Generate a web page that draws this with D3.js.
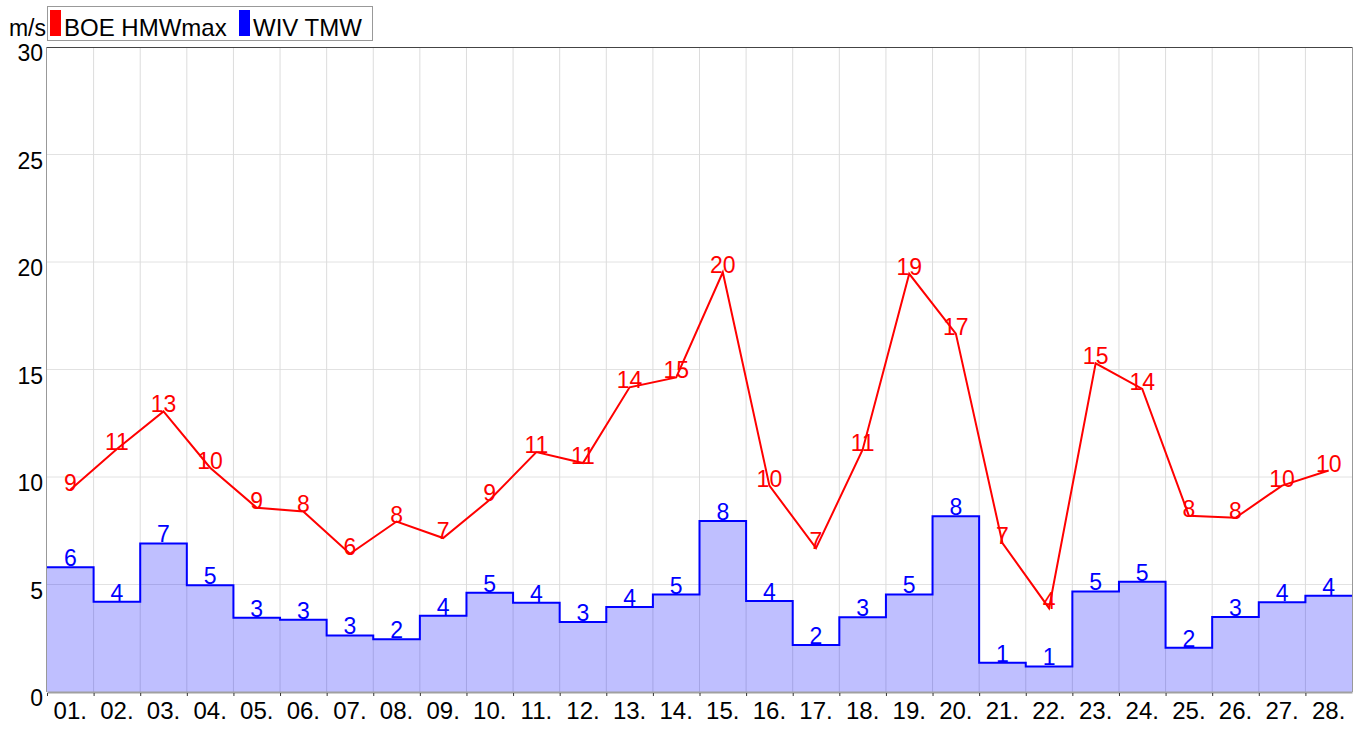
<!DOCTYPE html>
<html>
<head>
<meta charset="utf-8">
<script src="https://cdn.jsdelivr.net/npm/d3@7"></script>
<style>
  body { margin: 0; background: #fff; }
  text { font-family: "Liberation Sans", Arial, sans-serif; }
</style>
</head>
<body>
<div id="chart"></div>
<script>
// daily values, m/s
const days = ["01.","02.","03.","04.","05.","06.","07.","08.","09.","10.","11.","12.","13.","14.",
              "15.","16.","17.","18.","19.","20.","21.","22.","23.","24.","25.","26.","27.","28."];
const boeHMWmax = [9.41, 11.3, 13.05, 10.43, 8.57, 8.4, 6.43, 7.93, 7.16, 8.94, 11.16, 10.65, 14.17, 14.63,
                   19.52, 9.6, 6.69, 11.27, 19.45, 16.67, 6.93, 3.9, 15.29, 14.1, 8.2, 8.1, 9.6, 10.3];
const wivTMW = [5.8, 4.2, 6.91, 4.96, 3.45, 3.36, 2.63, 2.45, 3.55, 4.62, 4.15, 3.26, 3.95, 4.53,
                7.95, 4.23, 2.19, 3.48, 4.54, 8.17, 1.36, 1.19, 4.68, 5.13, 2.06, 3.49, 4.17, 4.48];
const yTicks = [0, 5, 10, 15, 20, 25, 30];
const seriesNames = ["BOE HMWmax", "WIV TMW"];
const seriesColors = ["#ff0000", "#0000ff"];

const W = 1359, H = 729;
const margin = {top: 47, right: 7, bottom: 37, left: 47};

const svg = d3.select("#chart").append("svg")
  .attr("width", W).attr("height", H);

const x = d3.scaleBand().domain(days).range([margin.left, W - margin.right]).padding(0);
const y = d3.scaleLinear().domain([0, 30]).range([H - margin.bottom, margin.top]);

// grid
svg.append("g").selectAll("line.h")
  .data(yTicks.slice(1, -1))
  .join("line")
  .attr("x1", margin.left).attr("x2", W - margin.right)
  .attr("y1", d => y(d)).attr("y2", d => y(d))
  .attr("stroke", "#e2e2e2").attr("stroke-width", 1);

svg.append("g").selectAll("line.v")
  .data(days.slice(1))
  .join("line")
  .attr("x1", d => x(d)).attr("x2", d => x(d))
  .attr("y1", margin.top).attr("y2", y(0))
  .attr("stroke", "#dcdcdc").attr("stroke-width", 1);

// step area for WIV TMW
const stepPts = days.map((d, i) => [x(d), wivTMW[i]]);
stepPts.push([x(days[days.length - 1]) + x.bandwidth(), wivTMW[wivTMW.length - 1]]);

svg.append("path")
  .datum(stepPts)
  .attr("fill", "rgba(0,0,255,0.25)")
  .attr("d", d3.area().curve(d3.curveStepAfter)
    .x(d => d[0]).y0(y(0)).y1(d => y(d[1])));

svg.append("path")
  .datum(stepPts)
  .attr("fill", "none")
  .attr("stroke", seriesColors[1])
  .attr("stroke-width", 2)
  .attr("d", d3.line().curve(d3.curveStepAfter).x(d => d[0]).y(d => y(d[1])));

// red line
svg.append("path")
  .datum(boeHMWmax)
  .attr("fill", "none")
  .attr("stroke", seriesColors[0])
  .attr("stroke-width", 2)
  .attr("stroke-linejoin", "miter")
  .attr("d", d3.line().x((d, i) => x(days[i]) + x.bandwidth() / 2).y(d => y(d)));

// frame
svg.append("line")
  .attr("x1", margin.left).attr("x2", W - margin.right)
  .attr("y1", margin.top + 0.5).attr("y2", margin.top + 0.5)
  .attr("stroke", "#444");
svg.append("line")
  .attr("x1", margin.left - 0.5).attr("x2", margin.left - 0.5)
  .attr("y1", margin.top).attr("y2", y(0))
  .attr("stroke", "#999");
svg.append("line")
  .attr("x1", W - margin.right + 0.5).attr("x2", W - margin.right + 0.5)
  .attr("y1", margin.top).attr("y2", y(0))
  .attr("stroke", "#999");

// x axis
const xAxis = svg.append("g")
  .attr("transform", `translate(0,${y(0)})`)
  .call(d3.axisBottom(x).tickSize(0).tickPadding(10));
xAxis.select(".domain").attr("stroke", "#a0a0a0").attr("stroke-width", 2);
xAxis.selectAll("text").style("font-size", "24px").attr("fill", "#000")
  .attr("font-family", "Liberation Sans, Arial, sans-serif");

svg.append("g").selectAll("line")
  .data(days)
  .join("line")
  .attr("x1", d => x(d) + 0.5).attr("x2", d => x(d) + 0.5)
  .attr("y1", y(0) + 1).attr("y2", y(0) + 4)
  .attr("stroke", "#333");

// y axis labels
svg.append("g").selectAll("text")
  .data(yTicks)
  .join("text")
  .attr("x", margin.left - 4)
  .attr("y", d => y(d) + 14)
  .attr("text-anchor", "end")
  .style("font-size", "23px")
  .text(d => d);

// data labels
svg.append("g").selectAll("text")
  .data(wivTMW)
  .join("text")
  .attr("x", (d, i) => x(days[i]) + x.bandwidth() / 2)
  .attr("y", d => y(d) - 1)
  .attr("text-anchor", "middle")
  .attr("fill", seriesColors[1])
  .style("font-size", "23px")
  .text(d => Math.round(d));

svg.append("g").selectAll("text")
  .data(boeHMWmax)
  .join("text")
  .attr("x", (d, i) => x(days[i]) + x.bandwidth() / 2)
  .attr("y", d => y(d) + 1)
  .attr("text-anchor", "middle")
  .attr("fill", seriesColors[0])
  .style("font-size", "23px")
  .text(d => Math.round(d));

// unit + legend
svg.append("text")
  .attr("x", 46).attr("y", 36)
  .attr("text-anchor", "end")
  .style("font-size", "23px")
  .text("m/s");

svg.append("rect")
  .attr("x", 47.5).attr("y", 6.5).attr("width", 325).attr("height", 34)
  .attr("fill", "#fff").attr("stroke", "#999");

const legendX = [50, 239];
seriesNames.forEach((name, i) => {
  svg.append("rect")
    .attr("x", legendX[i]).attr("y", 10).attr("width", 11).attr("height", 26)
    .attr("fill", seriesColors[i]);
  svg.append("text")
    .attr("x", legendX[i] + 14).attr("y", 36)
    .style("font-size", "24px")
    .text(name);
});
</script>
</body>
</html>
